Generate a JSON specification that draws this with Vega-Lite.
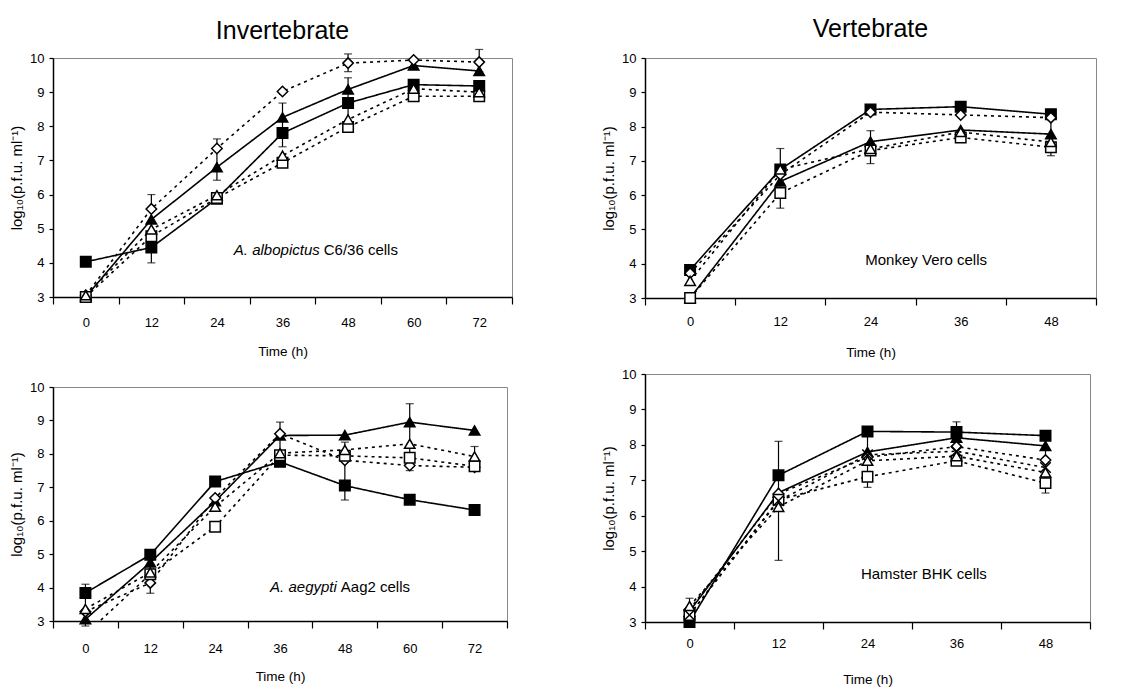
{
  "$schema": "https://vega.github.io/schema/vega-lite/v6.json",
  "padding": {"left": 9, "top": 16, "right": 5, "bottom": 5},
  "background": "white",
  "config": {
    "font": "Liberation Sans",
    "view": {"stroke": "#888888", "strokeWidth": 1},
    "axis": {"labelFont": "Liberation Sans", "labelFontSize": 13, "labelColor": "black", "titleFont": "Liberation Sans", "titleFontSize": 13.5, "titleFontWeight": "normal", "titleColor": "black", "domainColor": "black", "domainWidth": 1.5, "tickColor": "black", "tickWidth": 1.2, "grid": false},
    "axisY": {"labelOverlap": false, "labelFlush": false, "tickCount": 8, "titleFontSize": 15},
    "title": {"font": "Liberation Sans", "fontSize": 25, "fontWeight": "normal", "color": "black", "anchor": "middle", "frame": "group", "offset": 10}
  },
  "datasets": {
    "pts": [
      {"p": "A", "s": "sq", "t": 0, "v": 4.03}, {"p": "A", "s": "sq", "t": 12, "v": 4.45}, {"p": "A", "s": "sq", "t": 24, "v": 5.88}, {"p": "A", "s": "sq", "t": 36, "v": 7.8}, {"p": "A", "s": "sq", "t": 48, "v": 8.68}, {"p": "A", "s": "sq", "t": 60, "v": 9.22}, {"p": "A", "s": "sq", "t": 72, "v": 9.18},
      {"p": "A", "s": "tri", "t": 0, "v": 3.0}, {"p": "A", "s": "tri", "t": 12, "v": 5.27}, {"p": "A", "s": "tri", "t": 24, "v": 6.8}, {"p": "A", "s": "tri", "t": 36, "v": 8.26}, {"p": "A", "s": "tri", "t": 48, "v": 9.08}, {"p": "A", "s": "tri", "t": 60, "v": 9.78}, {"p": "A", "s": "tri", "t": 72, "v": 9.62},
      {"p": "A", "s": "dia", "t": 0, "v": 3.05}, {"p": "A", "s": "dia", "t": 12, "v": 5.58}, {"p": "A", "s": "dia", "t": 24, "v": 7.35}, {"p": "A", "s": "dia", "t": 36, "v": 9.02}, {"p": "A", "s": "dia", "t": 48, "v": 9.85}, {"p": "A", "s": "dia", "t": 60, "v": 9.94}, {"p": "A", "s": "dia", "t": 72, "v": 9.88},
      {"p": "A", "s": "osq", "t": 0, "v": 3.0}, {"p": "A", "s": "osq", "t": 12, "v": 4.78}, {"p": "A", "s": "osq", "t": 24, "v": 5.9}, {"p": "A", "s": "osq", "t": 36, "v": 6.93}, {"p": "A", "s": "osq", "t": 48, "v": 7.98}, {"p": "A", "s": "osq", "t": 60, "v": 8.88}, {"p": "A", "s": "osq", "t": 72, "v": 8.88},
      {"p": "A", "s": "otri", "t": 0, "v": 3.05}, {"p": "A", "s": "otri", "t": 12, "v": 4.98}, {"p": "A", "s": "otri", "t": 24, "v": 5.98}, {"p": "A", "s": "otri", "t": 36, "v": 7.14}, {"p": "A", "s": "otri", "t": 48, "v": 8.2}, {"p": "A", "s": "otri", "t": 60, "v": 9.1}, {"p": "A", "s": "otri", "t": 72, "v": 9.0},

      {"p": "B", "s": "sq", "t": 0, "v": 3.82}, {"p": "B", "s": "sq", "t": 12, "v": 6.75}, {"p": "B", "s": "sq", "t": 24, "v": 8.5}, {"p": "B", "s": "sq", "t": 36, "v": 8.58}, {"p": "B", "s": "sq", "t": 48, "v": 8.36},
      {"p": "B", "s": "tri", "t": 0, "v": 3.0}, {"p": "B", "s": "tri", "t": 12, "v": 6.4}, {"p": "B", "s": "tri", "t": 24, "v": 7.56}, {"p": "B", "s": "tri", "t": 36, "v": 7.9}, {"p": "B", "s": "tri", "t": 48, "v": 7.78},
      {"p": "B", "s": "dia", "t": 0, "v": 3.72}, {"p": "B", "s": "dia", "t": 12, "v": 6.6}, {"p": "B", "s": "dia", "t": 24, "v": 8.42}, {"p": "B", "s": "dia", "t": 36, "v": 8.34}, {"p": "B", "s": "dia", "t": 48, "v": 8.26},
      {"p": "B", "s": "osq", "t": 0, "v": 3.0}, {"p": "B", "s": "osq", "t": 12, "v": 6.06}, {"p": "B", "s": "osq", "t": 24, "v": 7.3}, {"p": "B", "s": "osq", "t": 36, "v": 7.68}, {"p": "B", "s": "osq", "t": 48, "v": 7.4},
      {"p": "B", "s": "otri", "t": 0, "v": 3.5}, {"p": "B", "s": "otri", "t": 12, "v": 6.75}, {"p": "B", "s": "otri", "t": 24, "v": 7.35}, {"p": "B", "s": "otri", "t": 36, "v": 7.84}, {"p": "B", "s": "otri", "t": 48, "v": 7.55},

      {"p": "C", "s": "sq", "t": 0, "v": 3.84}, {"p": "C", "s": "sq", "t": 12, "v": 4.98}, {"p": "C", "s": "sq", "t": 24, "v": 7.17}, {"p": "C", "s": "sq", "t": 36, "v": 7.76}, {"p": "C", "s": "sq", "t": 48, "v": 7.05}, {"p": "C", "s": "sq", "t": 60, "v": 6.63}, {"p": "C", "s": "sq", "t": 72, "v": 6.32},
      {"p": "C", "s": "tri", "t": 0, "v": 3.05}, {"p": "C", "s": "tri", "t": 12, "v": 4.75}, {"p": "C", "s": "tri", "t": 24, "v": 6.58}, {"p": "C", "s": "tri", "t": 36, "v": 8.55}, {"p": "C", "s": "tri", "t": 48, "v": 8.56}, {"p": "C", "s": "tri", "t": 60, "v": 8.95}, {"p": "C", "s": "tri", "t": 72, "v": 8.7},
      {"p": "C", "s": "dia", "t": 0, "v": 3.28}, {"p": "C", "s": "dia", "t": 12, "v": 4.14}, {"p": "C", "s": "dia", "t": 24, "v": 6.68}, {"p": "C", "s": "dia", "t": 36, "v": 8.6}, {"p": "C", "s": "dia", "t": 48, "v": 7.81}, {"p": "C", "s": "dia", "t": 60, "v": 7.65}, {"p": "C", "s": "dia", "t": 72, "v": 7.6},
      {"p": "C", "s": "osq", "t": 0, "v": 2.6}, {"p": "C", "s": "osq", "t": 12, "v": 4.4}, {"p": "C", "s": "osq", "t": 24, "v": 5.82}, {"p": "C", "s": "osq", "t": 36, "v": 7.96}, {"p": "C", "s": "osq", "t": 48, "v": 7.94}, {"p": "C", "s": "osq", "t": 60, "v": 7.88}, {"p": "C", "s": "osq", "t": 72, "v": 7.63},
      {"p": "C", "s": "otri", "t": 0, "v": 3.36}, {"p": "C", "s": "otri", "t": 12, "v": 4.45}, {"p": "C", "s": "otri", "t": 24, "v": 6.42}, {"p": "C", "s": "otri", "t": 36, "v": 8.02}, {"p": "C", "s": "otri", "t": 48, "v": 8.12}, {"p": "C", "s": "otri", "t": 60, "v": 8.3}, {"p": "C", "s": "otri", "t": 72, "v": 7.92},

      {"p": "D", "s": "sq", "t": 0, "v": 3.0}, {"p": "D", "s": "sq", "t": 12, "v": 7.14}, {"p": "D", "s": "sq", "t": 24, "v": 8.38}, {"p": "D", "s": "sq", "t": 36, "v": 8.36}, {"p": "D", "s": "sq", "t": 48, "v": 8.26},
      {"p": "D", "s": "tri", "t": 0, "v": 3.3}, {"p": "D", "s": "tri", "t": 12, "v": 6.65}, {"p": "D", "s": "tri", "t": 24, "v": 7.8}, {"p": "D", "s": "tri", "t": 36, "v": 8.2}, {"p": "D", "s": "tri", "t": 48, "v": 7.97},
      {"p": "D", "s": "dia", "t": 0, "v": 3.35}, {"p": "D", "s": "dia", "t": 12, "v": 6.62}, {"p": "D", "s": "dia", "t": 24, "v": 7.65}, {"p": "D", "s": "dia", "t": 36, "v": 7.95}, {"p": "D", "s": "dia", "t": 48, "v": 7.57},
      {"p": "D", "s": "osq", "t": 0, "v": 3.2}, {"p": "D", "s": "osq", "t": 12, "v": 6.45}, {"p": "D", "s": "osq", "t": 24, "v": 7.1}, {"p": "D", "s": "osq", "t": 36, "v": 7.55}, {"p": "D", "s": "osq", "t": 48, "v": 6.92},
      {"p": "D", "s": "otri", "t": 0, "v": 3.45}, {"p": "D", "s": "otri", "t": 12, "v": 6.25}, {"p": "D", "s": "otri", "t": 24, "v": 7.55}, {"p": "D", "s": "otri", "t": 36, "v": 7.68}, {"p": "D", "s": "otri", "t": 48, "v": 7.22},
      {"p": "D", "s": "x", "t": 0, "v": 3.2}, {"p": "D", "s": "x", "t": 12, "v": 6.42}, {"p": "D", "s": "x", "t": 24, "v": 7.72}, {"p": "D", "s": "x", "t": 36, "v": 7.82}, {"p": "D", "s": "x", "t": 48, "v": 7.36}
    ],
    "err": [
      {"p": "A", "t": 12, "lo": 4.0, "hi": 6.0}, {"p": "A", "t": 24, "lo": 6.42, "hi": 7.63}, {"p": "A", "t": 36, "lo": 7.4, "hi": 8.68}, {"p": "A", "t": 48, "lo": 7.98, "hi": 9.42}, {"p": "A", "t": 48, "lo": 9.6, "hi": 10.12}, {"p": "A", "t": 72, "lo": 9.6, "hi": 10.25},
      {"p": "B", "t": 12, "lo": 5.62, "hi": 7.36}, {"p": "B", "t": 24, "lo": 6.92, "hi": 7.88}, {"p": "B", "t": 48, "lo": 7.15, "hi": 8.5},
      {"p": "C", "t": 0, "lo": 2.85, "hi": 4.1}, {"p": "C", "t": 12, "lo": 3.83, "hi": 5.0}, {"p": "C", "t": 36, "lo": 7.8, "hi": 8.95}, {"p": "C", "t": 48, "lo": 6.62, "hi": 8.35}, {"p": "C", "t": 60, "lo": 7.5, "hi": 9.5}, {"p": "C", "t": 72, "lo": 7.55, "hi": 8.22},
      {"p": "D", "t": 0, "lo": 3.0, "hi": 3.67}, {"p": "D", "t": 12, "lo": 4.74, "hi": 8.1}, {"p": "D", "t": 24, "lo": 6.8, "hi": 8.45}, {"p": "D", "t": 36, "lo": 7.5, "hi": 8.65}, {"p": "D", "t": 48, "lo": 6.64, "hi": 8.3}
    ]
  },
  "hconcat": [
    {
      "spacing": 22,
      "vconcat": [
        {
          "width": 459, "height": 239,
          "title": {"text": "Invertebrate", "offset": 5},
          "layer": [
            {"data": {"name": "err"}, "transform": [{"filter": "datum.p == 'A'"}], "mark": {"type": "rule", "color": "black", "strokeWidth": 1.2},
             "encoding": {
               "x": {"field": "t", "type": "quantitative", "scale": {"domain": [-6, 78], "nice": false, "zero": false}, "axis": {"values": [-6, 6, 18, 30, 42, 54, 66, 78], "labelExpr": "datum.value < 70 ? toString(datum.value + 6) : ''", "labelOffset": 32.8, "labelFlush": false, "labelOverlap": false, "tickSize": 7, "labelPadding": 12, "title": "Time (h)", "titlePadding": 15}},
               "y": {"field": "lo", "type": "quantitative", "scale": {"domain": [3, 10], "nice": false, "zero": false}, "axis": {"values": [3, 4, 5, 6, 7, 8, 9, 10], "labelOverlap": false, "labelFlush": false, "tickSize": 4, "labelPadding": 5, "title": "log₁₀(p.f.u. ml⁻¹)", "titlePadding": 5}},
               "y2": {"field": "hi"}}},
            {"data": {"name": "err"}, "transform": [{"filter": "datum.p == 'A'"}], "mark": {"type": "tick", "orient": "horizontal", "color": "black", "size": 8, "thickness": 1.2},
             "encoding": {"x": {"field": "t", "type": "quantitative"}, "y": {"field": "lo", "type": "quantitative"}}},
            {"data": {"name": "err"}, "transform": [{"filter": "datum.p == 'A'"}], "mark": {"type": "tick", "orient": "horizontal", "color": "black", "size": 8, "thickness": 1.2},
             "encoding": {"x": {"field": "t", "type": "quantitative"}, "y": {"field": "hi", "type": "quantitative"}}},
            {"data": {"name": "pts"}, "transform": [{"filter": "datum.p == 'A'"}], "mark": {"type": "line", "color": "black", "strokeWidth": 1.6, "clip": true},
             "encoding": {"x": {"field": "t", "type": "quantitative"}, "y": {"field": "v", "type": "quantitative"}, "detail": {"field": "s"},
               "strokeDash": {"field": "s", "type": "nominal", "legend": null, "scale": {"domain": ["sq", "tri", "dia", "osq", "otri", "x"], "range": [[1, 0], [1, 0], [3, 4], [3, 4], [3, 4], [3, 4]]}}}},
            {"data": {"name": "pts"}, "transform": [{"filter": "datum.p == 'A'"}], "mark": {"type": "point", "filled": true, "stroke": "black", "strokeWidth": 1.5, "size": 110, "opacity": 1},
             "encoding": {"x": {"field": "t", "type": "quantitative"}, "y": {"field": "v", "type": "quantitative"},
               "shape": {"field": "s", "type": "nominal", "legend": null, "scale": {"domain": ["sq", "tri", "dia", "osq", "otri", "x"], "range": ["square", "triangle-up", "diamond", "square", "triangle-up", "M-1,-1L1,1M-1,1L1,-1"]}},
               "fill": {"field": "s", "type": "nominal", "legend": null, "scale": {"domain": ["sq", "tri", "dia", "osq", "otri", "x"], "range": ["black", "black", "white", "white", "white", "white"]}}}},
            {"data": {"values": [{}]}, "mark": {"type": "text", "align": "right", "baseline": "middle", "fontStyle": "italic", "fontSize": 15, "dx": -1},
             "encoding": {"x": {"datum": 43}, "y": {"datum": 4.38}, "text": {"value": "A. albopictus"}}},
            {"data": {"values": [{}]}, "mark": {"type": "text", "align": "left", "baseline": "middle", "fontSize": 15, "dx": 3},
             "encoding": {"x": {"datum": 43}, "y": {"datum": 4.38}, "text": {"value": "C6/36 cells"}}}
          ]
        },
        {
          "width": 454, "height": 234,
          "layer": [
            {"data": {"name": "err"}, "transform": [{"filter": "datum.p == 'C'"}], "mark": {"type": "rule", "color": "black", "strokeWidth": 1.2},
             "encoding": {
               "x": {"field": "t", "type": "quantitative", "scale": {"domain": [-6, 78], "nice": false, "zero": false}, "axis": {"values": [-6, 6, 18, 30, 42, 54, 66, 78], "labelExpr": "datum.value < 70 ? toString(datum.value + 6) : ''", "labelOffset": 32.4, "labelFlush": false, "labelOverlap": false, "tickSize": 7, "labelPadding": 14, "title": "Time (h)", "titlePadding": 14}},
               "y": {"field": "lo", "type": "quantitative", "scale": {"domain": [3, 10], "nice": false, "zero": false}, "axis": {"values": [3, 4, 5, 6, 7, 8, 9, 10], "labelOverlap": false, "labelFlush": false, "tickSize": 4, "labelPadding": 5, "title": "log₁₀(p.f.u. ml⁻¹)", "titlePadding": 5}},
               "y2": {"field": "hi"}}},
            {"data": {"name": "err"}, "transform": [{"filter": "datum.p == 'C'"}], "mark": {"type": "tick", "orient": "horizontal", "color": "black", "size": 8, "thickness": 1.2},
             "encoding": {"x": {"field": "t", "type": "quantitative"}, "y": {"field": "lo", "type": "quantitative"}}},
            {"data": {"name": "err"}, "transform": [{"filter": "datum.p == 'C'"}], "mark": {"type": "tick", "orient": "horizontal", "color": "black", "size": 8, "thickness": 1.2},
             "encoding": {"x": {"field": "t", "type": "quantitative"}, "y": {"field": "hi", "type": "quantitative"}}},
            {"data": {"name": "pts"}, "transform": [{"filter": "datum.p == 'C'"}], "mark": {"type": "line", "color": "black", "strokeWidth": 1.6, "clip": true},
             "encoding": {"x": {"field": "t", "type": "quantitative"}, "y": {"field": "v", "type": "quantitative"}, "detail": {"field": "s"},
               "strokeDash": {"field": "s", "type": "nominal", "legend": null, "scale": {"domain": ["sq", "tri", "dia", "osq", "otri", "x"], "range": [[1, 0], [1, 0], [3, 4], [3, 4], [3, 4], [3, 4]]}}}},
            {"data": {"name": "pts"}, "transform": [{"filter": "datum.p == 'C' && datum.v >= 3"}], "mark": {"type": "point", "filled": true, "stroke": "black", "strokeWidth": 1.5, "size": 110, "opacity": 1},
             "encoding": {"x": {"field": "t", "type": "quantitative"}, "y": {"field": "v", "type": "quantitative"},
               "shape": {"field": "s", "type": "nominal", "legend": null, "scale": {"domain": ["sq", "tri", "dia", "osq", "otri", "x"], "range": ["square", "triangle-up", "diamond", "square", "triangle-up", "M-1,-1L1,1M-1,1L1,-1"]}},
               "fill": {"field": "s", "type": "nominal", "legend": null, "scale": {"domain": ["sq", "tri", "dia", "osq", "otri", "x"], "range": ["black", "black", "white", "white", "white", "white"]}}}},
            {"data": {"values": [{}]}, "mark": {"type": "text", "align": "right", "baseline": "middle", "fontStyle": "italic", "fontSize": 15, "dx": -1},
             "encoding": {"x": {"datum": 46.7}, "y": {"datum": 4.02}, "text": {"value": "A. aegypti"}}},
            {"data": {"values": [{}]}, "mark": {"type": "text", "align": "left", "baseline": "middle", "fontSize": 15, "dx": 3},
             "encoding": {"x": {"datum": 46.7}, "y": {"datum": 4.02}, "text": {"value": "Aag2 cells"}}}
          ]
        }
      ]
    },
    {
      "spacing": 8,
      "vconcat": [
        {
          "width": 451, "height": 240,
          "title": {"text": "Vertebrate"},
          "layer": [
            {"data": {"name": "err"}, "transform": [{"filter": "datum.p == 'B'"}], "mark": {"type": "rule", "color": "black", "strokeWidth": 1.2},
             "encoding": {
               "x": {"field": "t", "type": "quantitative", "scale": {"domain": [-6, 54], "nice": false, "zero": false}, "axis": {"values": [-6, 6, 18, 30, 42, 54], "labelExpr": "datum.value < 46 ? toString(datum.value + 6) : ''", "labelOffset": 45.1, "labelFlush": false, "labelOverlap": false, "tickSize": 7, "labelPadding": 10, "title": "Time (h)", "titlePadding": 17}},
               "y": {"field": "lo", "type": "quantitative", "scale": {"domain": [3, 10], "nice": false, "zero": false}, "axis": {"values": [3, 4, 5, 6, 7, 8, 9, 10], "labelOverlap": false, "labelFlush": false, "tickSize": 4, "labelPadding": 5, "title": "log₁₀(p.f.u. ml⁻¹)", "titlePadding": 5}},
               "y2": {"field": "hi"}}},
            {"data": {"name": "err"}, "transform": [{"filter": "datum.p == 'B'"}], "mark": {"type": "tick", "orient": "horizontal", "color": "black", "size": 8, "thickness": 1.2},
             "encoding": {"x": {"field": "t", "type": "quantitative"}, "y": {"field": "lo", "type": "quantitative"}}},
            {"data": {"name": "err"}, "transform": [{"filter": "datum.p == 'B'"}], "mark": {"type": "tick", "orient": "horizontal", "color": "black", "size": 8, "thickness": 1.2},
             "encoding": {"x": {"field": "t", "type": "quantitative"}, "y": {"field": "hi", "type": "quantitative"}}},
            {"data": {"name": "pts"}, "transform": [{"filter": "datum.p == 'B'"}], "mark": {"type": "line", "color": "black", "strokeWidth": 1.6, "clip": true},
             "encoding": {"x": {"field": "t", "type": "quantitative"}, "y": {"field": "v", "type": "quantitative"}, "detail": {"field": "s"},
               "strokeDash": {"field": "s", "type": "nominal", "legend": null, "scale": {"domain": ["sq", "tri", "dia", "osq", "otri", "x"], "range": [[1, 0], [1, 0], [3, 4], [3, 4], [3, 4], [3, 4]]}}}},
            {"data": {"name": "pts"}, "transform": [{"filter": "datum.p == 'B'"}], "mark": {"type": "point", "filled": true, "stroke": "black", "strokeWidth": 1.5, "size": 110, "opacity": 1},
             "encoding": {"x": {"field": "t", "type": "quantitative"}, "y": {"field": "v", "type": "quantitative"},
               "shape": {"field": "s", "type": "nominal", "legend": null, "scale": {"domain": ["sq", "tri", "dia", "osq", "otri", "x"], "range": ["square", "triangle-up", "diamond", "square", "triangle-up", "M-1,-1L1,1M-1,1L1,-1"]}},
               "fill": {"field": "s", "type": "nominal", "legend": null, "scale": {"domain": ["sq", "tri", "dia", "osq", "otri", "x"], "range": ["black", "black", "white", "white", "white", "white"]}}}},
            {"data": {"values": [{}]}, "mark": {"type": "text", "align": "center", "baseline": "middle", "fontSize": 15},
             "encoding": {"x": {"datum": 31.4}, "y": {"datum": 4.11}, "text": {"value": "Monkey Vero cells"}}}
          ]
        },
        {
          "width": 445, "height": 248,
          "layer": [
            {"data": {"name": "err"}, "transform": [{"filter": "datum.p == 'D'"}], "mark": {"type": "rule", "color": "black", "strokeWidth": 1.2},
             "encoding": {
               "x": {"field": "t", "type": "quantitative", "scale": {"domain": [-6, 54], "nice": false, "zero": false}, "axis": {"values": [-6, 6, 18, 30, 42, 54], "labelExpr": "datum.value < 46 ? toString(datum.value + 6) : ''", "labelOffset": 44.5, "labelFlush": false, "labelOverlap": false, "tickSize": 7, "labelPadding": 8, "title": "Time (h)", "titlePadding": 22}},
               "y": {"field": "lo", "type": "quantitative", "scale": {"domain": [3, 10], "nice": false, "zero": false}, "axis": {"values": [3, 4, 5, 6, 7, 8, 9, 10], "labelOverlap": false, "labelFlush": false, "tickSize": 4, "labelPadding": 5, "title": "log₁₀(p.f.u. ml⁻¹)", "titlePadding": 5}},
               "y2": {"field": "hi"}}},
            {"data": {"name": "err"}, "transform": [{"filter": "datum.p == 'D'"}], "mark": {"type": "tick", "orient": "horizontal", "color": "black", "size": 8, "thickness": 1.2},
             "encoding": {"x": {"field": "t", "type": "quantitative"}, "y": {"field": "lo", "type": "quantitative"}}},
            {"data": {"name": "err"}, "transform": [{"filter": "datum.p == 'D'"}], "mark": {"type": "tick", "orient": "horizontal", "color": "black", "size": 8, "thickness": 1.2},
             "encoding": {"x": {"field": "t", "type": "quantitative"}, "y": {"field": "hi", "type": "quantitative"}}},
            {"data": {"name": "pts"}, "transform": [{"filter": "datum.p == 'D'"}], "mark": {"type": "line", "color": "black", "strokeWidth": 1.6, "clip": true},
             "encoding": {"x": {"field": "t", "type": "quantitative"}, "y": {"field": "v", "type": "quantitative"}, "detail": {"field": "s"},
               "strokeDash": {"field": "s", "type": "nominal", "legend": null, "scale": {"domain": ["sq", "tri", "dia", "osq", "otri", "x"], "range": [[1, 0], [1, 0], [3, 4], [3, 4], [3, 4], [3, 4]]}}}},
            {"data": {"name": "pts"}, "transform": [{"filter": "datum.p == 'D'"}], "mark": {"type": "point", "filled": true, "stroke": "black", "strokeWidth": 1.5, "size": 110, "opacity": 1},
             "encoding": {"x": {"field": "t", "type": "quantitative"}, "y": {"field": "v", "type": "quantitative"},
               "shape": {"field": "s", "type": "nominal", "legend": null, "scale": {"domain": ["sq", "tri", "dia", "osq", "otri", "x"], "range": ["square", "triangle-up", "diamond", "square", "triangle-up", "M-1,-1L1,1M-1,1L1,-1"]}},
               "fill": {"field": "s", "type": "nominal", "legend": null, "scale": {"domain": ["sq", "tri", "dia", "osq", "otri", "x"], "range": ["black", "black", "white", "white", "white", "white"]}}}},
            {"data": {"values": [{}]}, "mark": {"type": "text", "align": "center", "baseline": "middle", "fontSize": 15},
             "encoding": {"x": {"datum": 31.6}, "y": {"datum": 4.35}, "text": {"value": "Hamster BHK cells"}}}
          ]
        }
      ]
    }
  ],
  "spacing": 55
}
